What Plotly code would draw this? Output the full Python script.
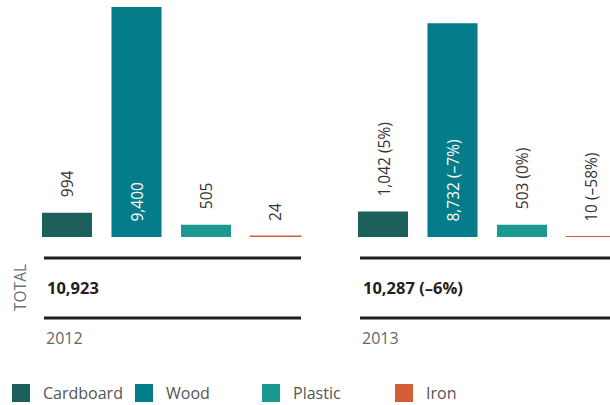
import plotly.graph_objects as go

categories = ["Cardboard", "Wood", "Plastic", "Iron"]
years = ["2012", "2013"]
values_2012 = [994, 9400, 505, 24]
values_2013 = [1042, 8732, 503, 10]
colors = ["#1d5f5a", "#047c89", "#1b9990", "#d45c36"]

W, H = 610, 405
FONT = "Open Sans"


def fmt(v):
    return f"{v:,}"


def pct(new, old):
    p = round((new - old) / old * 100)
    if p == 0:
        return "0%"
    return ("–" if p < 0 else "") + f"{abs(p)}%"


labels_2012 = [fmt(v) for v in values_2012]
labels_2013 = [f"{fmt(n)} ({pct(n, o)})" for n, o in zip(values_2013, values_2012)]
tot12, tot13 = sum(values_2012), sum(values_2013)
total_labels = [fmt(tot12), f"{fmt(tot13)} ({pct(tot13, tot12)})"]

fig = go.Figure()
series = [values_2012, values_2013]
labels = [labels_2012, labels_2013]
for i, vals in enumerate(series):
    ax = "" if i == 0 else "2"
    fig.add_trace(go.Bar(
        x=categories, y=vals, xaxis="x" + ax, yaxis="y" + ax,
        marker=dict(color=colors, line=dict(color=colors, width=[0, 0, 0, 1.6])),
        showlegend=False, hoverinfo="skip", cliponaxis=True,
    ))
    for c, v, t in zip(categories, vals, labels[i]):
        inside = v > 5000
        fig.add_annotation(
            x=c, y=0 if inside else v, xref="x" + ax, yref="y" + ax,
            text=t, textangle=-90, showarrow=False, yanchor="bottom",
            xanchor="center", yshift=13,
            font=dict(family=FONT, size=15.5, color="white" if inside else "#333333"),
        )

ymax = 237 / 230 * 9400
slot = 69.5
d1 = [(67 - slot / 2) / W, (67 + 3.5 * slot) / W]
d2_start = 383 - slot / 2
r2_end = -0.5 + (W - d2_start) / slot

fig.update_layout(
    width=W, height=H, margin=dict(l=0, r=0, t=0, b=0),
    paper_bgcolor="white", plot_bgcolor="rgba(0,0,0,0)",
    bargap=0.28,
    xaxis=dict(domain=d1, visible=False, range=[-0.5, 3.5], fixedrange=True),
    xaxis2=dict(domain=[d2_start / W, 1], visible=False, range=[-0.5, r2_end], fixedrange=True),
    yaxis=dict(domain=[(H - 237) / H, 1], range=[0, ymax], visible=False, fixedrange=True),
    yaxis2=dict(domain=[(H - 237) / H, 1], range=[0, ymax], visible=False, anchor="x2", fixedrange=True),
    font=dict(family=FONT),
)


def py(p):
    return (H - p) / H


# Total rows
spans = [(44, 301), (360, 610)]
for (x0, x1), tl, yr in zip(spans, total_labels, years):
    for yy in (258, 318):
        fig.add_shape(type="line", xref="paper", yref="paper",
                      x0=x0 / W, x1=x1 / W, y0=py(yy), y1=py(yy),
                      line=dict(color="#231f20", width=3))
    fig.add_annotation(x=(x0 + 1) / W, y=py(287), xref="paper", yref="paper",
                       text=f"<b>{tl}</b>", showarrow=False, xanchor="left", yanchor="middle",
                       font=dict(family=FONT, size=16.5, color="#231f20"))
    fig.add_annotation(x=(x0 + 0) / W, y=py(338), xref="paper", yref="paper",
                       text=yr, showarrow=False, xanchor="left", yanchor="middle",
                       font=dict(family=FONT, size=16, color="#666666"))

fig.add_annotation(x=20 / W, y=py(288), xref="paper", yref="paper", text="TOTAL",
                   textangle=-90, showarrow=False, xanchor="center", yanchor="middle",
                   font=dict(family=FONT, size=15.5, color="#6f6f6f"))

# Legend
leg_x = [12, 135, 262, 395]
for c, col, lx in zip(categories, colors, leg_x):
    fig.add_shape(type="rect", xref="paper", yref="paper",
                  x0=lx / W, x1=(lx + 18) / W, y0=py(402), y1=py(384),
                  fillcolor=col, line=dict(width=0))
    fig.add_annotation(x=(lx + 29) / W, y=py(393), xref="paper", yref="paper",
                       text=c, showarrow=False, xanchor="left", yanchor="middle",
                       font=dict(family=FONT, size=16, color="#555555"))

fig.write_html(
    "out.html",
    config={"displayModeBar": False, "staticPlot": True},
    post_script="document.body.style.margin='0';document.body.style.overflow='hidden';",
)
